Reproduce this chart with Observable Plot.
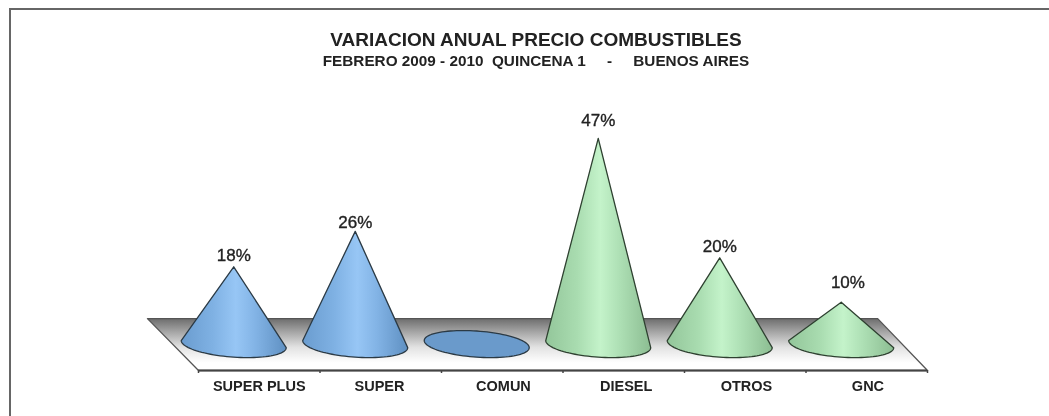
<!DOCTYPE html>
<html>
<head>
<meta charset="utf-8">
<script src="https://cdn.jsdelivr.net/npm/d3@7"></script>
<script src="https://cdn.jsdelivr.net/npm/@observablehq/plot@0.6"></script>
<style>
  html, body { margin: 0; padding: 0; background: #fff; }
  #page { position: relative; width: 1049px; height: 416px; overflow: hidden; filter: blur(0.5px); }
  #frame { position: absolute; left: 9px; top: 8px; width: 1100px; height: 480px; border: 2px solid #666; box-sizing: border-box; }
  #titles { position: absolute; left: 236px; width: 600px; top: 30px; text-align: center; font-family: "Liberation Sans", sans-serif; font-weight: bold; color: #222; }
  #t1 { font-size: 19px; line-height: 20px; }
  #t2 { font-size: 15.3px; line-height: 22px; white-space: pre; }
  svg { display: block; position: absolute; left: 0; top: 0; }
</style>
</head>
<body>
<div id="page">
  <div id="frame"></div>
  <div id="titles"><div id="t1"></div><div id="t2"></div></div>
</div>
<script>
const titleText = "VARIACION ANUAL PRECIO COMBUSTIBLES";
const subtitleText = "FEBRERO 2009 - 2010  QUINCENA 1     -     BUENOS AIRES";
const categories = ["SUPER PLUS", "SUPER", "COMUN", "DIESEL", "OTROS", "GNC"];
const values = [18, 26, 0, 47, 20, 10];
const groups = ["blue", "blue", "blue", "green", "green", "green"];

document.getElementById("t1").textContent = titleText;
document.getElementById("t2").textContent = subtitleText;

// Layout of the pseudo-3D scene, in data units (x: category slots, y: percent)
const floorFrontY = -5.4, floorBackY = 6.3, floorSkew = 0.42, floorBackRight = 5.59;
const coneOffset = 0.29, rx = 0.432, ry = 2.95, shear = 0.8, baseY = 0.56;
const labelLift = [2.5, 2.1, 0, 4.1, 2.5, 4.5];
const labelShift = [0, 0, 0, 0, 0, 0.055];
const categoryShift = [0, -0.01, 0.01, 0.02, 0.01, 0.01];

function conePoints(i) {
  const cx = i + coneOffset, v = values[i], name = categories[i], pts = [];
  const ell = t => ({name, x: cx + rx * Math.cos(t), y: baseY + ry * Math.sin(t) - shear * Math.cos(t)});
  const n = 48;
  if (v > 0) {
    pts.push({name, x: cx, y: v});
    // the visible lower arc of the base, left extreme round to right extreme
    for (let k = 0; k <= n; k++) pts.push(ell(Math.PI + (k / n) * Math.PI));
    pts.push({name, x: cx, y: v});
  } else {
    for (let k = 0; k <= 2 * n; k++) pts.push(ell((k / n) * Math.PI));
  }
  return pts;
}
const idx = d3.range(categories.length);
const cones = g => idx.filter(i => groups[i] === g && values[i] > 0).flatMap(conePoints);
const flats = idx.filter(i => values[i] === 0).flatMap(conePoints);
const labels = idx.filter(i => values[i] > 0).map(i => ({
  x: i + coneOffset + labelShift[i], y: values[i] + labelLift[i], t: values[i] + "%"
}));
const floor = [
  {x: -floorSkew, y: floorBackY}, {x: floorBackRight, y: floorBackY},
  {x: categories.length, y: floorFrontY}, {x: 0, y: floorFrontY}, {x: -floorSkew, y: floorBackY}
];

function defs() {
  const d = d3.create("svg:defs");
  const grad = (id, x2, y2, stops) => {
    const g = d.append("linearGradient").attr("id", id).attr("x1", 0).attr("y1", 0).attr("x2", x2).attr("y2", y2);
    stops.forEach(([o, c]) => g.append("stop").attr("offset", o).attr("stop-color", c));
  };
  grad("blueGrad", 1, 0, [[0, "#6a9ccf"], [0.3, "#7fb1e3"], [0.52, "#97c6f5"], [0.7, "#83b4e6"], [1, "#5f90c2"]]);
  grad("greenGrad", 1, 0, [[0, "#93c69a"], [0.3, "#a9dcb0"], [0.52, "#c4f3ca"], [0.7, "#aee0b5"], [1, "#8cbd92"]]);
  grad("floorGrad", 0, 1, [[0, "#6e6e6e"], [0.25, "#a4a4a4"], [0.55, "#e2e2e2"], [0.85, "#ffffff"], [1, "#ffffff"]]);
  return d.node();
}

const plot = Plot.plot({
  width: 1049, height: 416,
  marginLeft: 198, marginRight: 122, marginTop: 0, marginBottom: 46,
  style: {background: "transparent", overflow: "visible"},
  x: {domain: [0, 6], label: null},
  y: {domain: [floorFrontY, 78.1], label: null, axis: null},
  marks: [
    defs,
    Plot.line(floor, {x: "x", y: "y", fill: "url(#floorGrad)", stroke: "#555", strokeWidth: 1.3}),
    Plot.ruleY([floorFrontY], {x1: 0, x2: categories.length, stroke: "#444", strokeWidth: 2}),
    Plot.line(cones("blue"), {x: "x", y: "y", z: "name", fill: "url(#blueGrad)", stroke: "#2b3a45", strokeWidth: 1.3}),
    Plot.line(flats, {x: "x", y: "y", z: "name", fill: "#6a9acb", stroke: "#2b3a45", strokeWidth: 1.3}),
    Plot.line(cones("green"), {x: "x", y: "y", z: "name", fill: "url(#greenGrad)", stroke: "#2e4030", strokeWidth: 1.3}),
    Plot.text(labels, {x: "x", y: "y", text: "t", fontSize: 17, fontFamily: "Liberation Sans, sans-serif", fill: "#222", stroke: "#222", strokeWidth: 0.35}),
    Plot.axisX({ticks: idx.concat(categories.length), tickFormat: () => "", tickSize: 3, stroke: "#444", strokeWidth: 1.5}),
    Plot.text(idx, {
      x: i => i + 0.5 + categoryShift[i], y: floorFrontY, dy: 16, text: i => categories[i],
      fontSize: 14.5, fontWeight: "bold", fontFamily: "Liberation Sans, sans-serif", fill: "#222", clip: false
    })
  ]
});
document.getElementById("page").appendChild(plot);
</script>
</body>
</html>
